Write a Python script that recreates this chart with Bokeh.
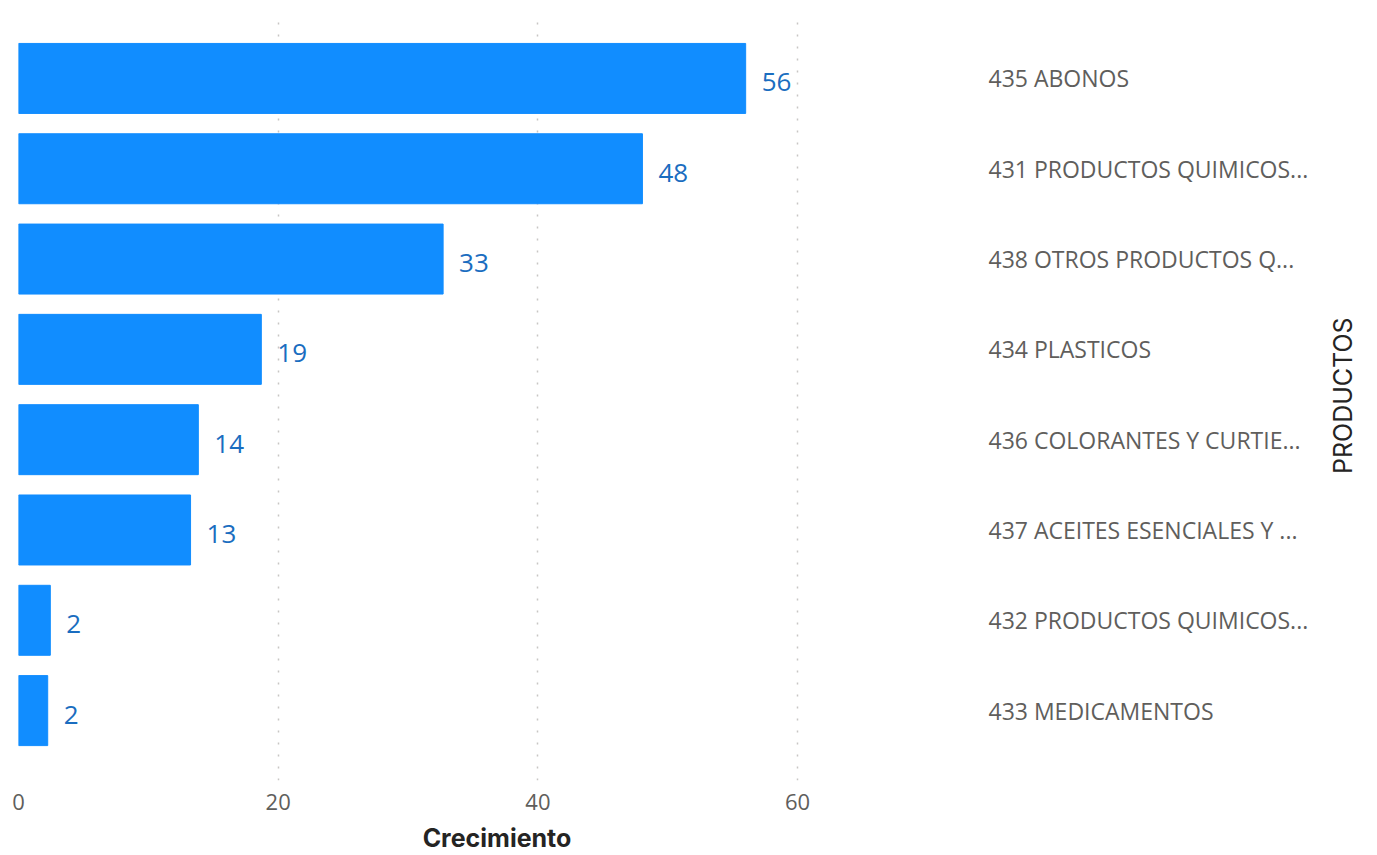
from bokeh.plotting import figure
from bokeh.models import (ColumnDataSource, LabelSet, Range1d, LinearAxis, FixedTicker)
from bokeh.core.properties import value
from bokeh.embed import file_html
from bokeh.resources import INLINE
import math

# ---- data ----
categories = ["435 ABONOS", "431 PRODUCTOS QUIMICOS...", "438 OTROS PRODUCTOS Q...",
              "434 PLASTICOS", "436 COLORANTES Y CURTIE...", "437 ACEITES ESENCIALES Y ...",
              "432 PRODUCTOS QUIMICOS...", "433 MEDICAMENTOS"]
crecimiento = [56.0, 48.05, 32.7, 18.7, 13.85, 13.25, 2.45, 2.25]
x_ticks = [0, 20, 40, 60]
x_title = "Crecimiento"
y_title = "PRODUCTOS"

n = len(categories)
ypos = [n - 1 - i for i in range(n)]
labels = ["{:.0f}".format(v) for v in crecimiento]
src = ColumnDataSource(dict(y=ypos, v=crecimiento, lab=labels, cat=categories))

BAR = "#118DFF"
GRAY = "#605E5C"
DARK = "#252423"

W, H = 1377, 855
p = figure(width=W, height=H, output_backend="svg", toolbar_location=None,
           x_range=Range1d(0, 73.7), y_range=Range1d(-0.774, n - 0.5 + 0.197),
           min_border_left=18, min_border_top=15, min_border_right=W - 18 - 957,
           min_border_bottom=70, y_axis_location=None)
p.outline_line_color = None
p.background_fill_color = "white"
p.border_fill_color = "white"

p.hbar(y="y", right="v", left=0, height=0.775, color=BAR, source=src)

p.add_layout(LabelSet(x="v", y="y", text="lab", source=src, x_offset=16, y_offset=-4,
                      text_align="left", text_baseline="middle",
                      text_font_size=value("26px"), text_font=value("Open Sans"),
                      text_color=value("#1A6DC0")))

# x axis
xa = p.xaxis[0]
xa.ticker = FixedTicker(ticks=x_ticks)
xa.axis_line_color = None
xa.major_tick_line_color = None
xa.minor_tick_line_color = None
xa.major_tick_out = 0
xa.major_label_text_font = "Open Sans"
xa.major_label_text_font_size = "22px"
xa.major_label_text_color = GRAY
xa.major_label_standoff = 13
xa.axis_label = x_title
xa.axis_label_text_font = "Inter"
xa.axis_label_text_font_style = "bold"
xa.axis_label_text_font_size = "25px"
xa.axis_label_text_color = DARK
xa.axis_label_standoff = 10

# right category axis
ra = LinearAxis(ticker=FixedTicker(ticks=ypos),
                major_label_overrides={y: c for y, c in zip(ypos, categories)})
ra.axis_line_color = None
ra.major_tick_line_color = None
ra.minor_tick_line_color = None
ra.major_tick_out = 0
ra.major_label_standoff = 13
ra.major_label_text_font = "Open Sans"
ra.major_label_text_font_size = "23px"
ra.major_label_text_color = GRAY
p.add_layout(ra, "right")

# axis title for categories (vertical, reading upward)
title_tick = (n - 1) / 2 - 0.88
ta = LinearAxis(ticker=FixedTicker(ticks=[title_tick]),
                major_label_overrides={title_tick: y_title},
                major_label_orientation=math.pi / 2)
ta.axis_line_color = None
ta.major_tick_line_color = None
ta.minor_tick_line_color = None
ta.major_tick_out = 0
ta.major_label_standoff = 32
ta.major_label_text_font = "Inter"
ta.major_label_text_font_size = "25px"
ta.major_label_text_color = DARK
p.add_layout(ta, "right")

p.xgrid.grid_line_color = "#C8C6C4"
p.xgrid.grid_line_dash = "2 10"
p.xgrid.grid_line_width = 1.5
p.xgrid.ticker = FixedTicker(ticks=x_ticks)
p.ygrid.grid_line_color = None

open("out.html", "w").write(file_html(p, INLINE))
